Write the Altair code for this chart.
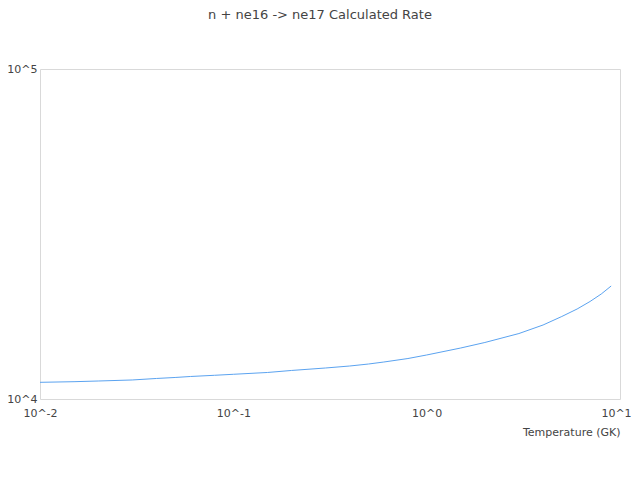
import altair as alt
import pandas as pd

temperature = [0.01, 0.015, 0.02, 0.03, 0.04, 0.05, 0.06, 0.08, 0.1, 0.15, 0.2, 0.3, 0.4,
               0.5, 0.6, 0.8, 1.0, 1.5, 2.0, 3.0, 4.0, 5.0, 6.0, 7.0, 8.0, 9.0]
rate = [11234, 11283, 11338, 11419, 11540, 11620, 11701, 11799, 11882, 12032, 12203, 12416, 12589,
        12764, 12944, 13264, 13594, 14274, 14834, 15789, 16759, 17783, 18738, 19747, 20807, 22000]

x_ticks = [0.01, 0.1, 1, 10]
y_ticks = [10000, 100000]

df = pd.DataFrame({"T": temperature, "rate": rate})

label_expr = "'10^' + round(log(datum.value) / LN10)"

chart = alt.Chart(df).mark_line(color="#5ba3f0", strokeWidth=1).encode(
    x=alt.X("T:Q",
            scale=alt.Scale(type="log", domain=[0.01, 10], nice=False),
            axis=alt.Axis(values=x_ticks, labelExpr=label_expr, title="Temperature (GK)",
                          grid=False, ticks=False, domain=False, labelPadding=8,
                          labelFontSize=11, labelColor="#444", labelFont="DejaVu Sans",
                          labelOffset={"condition": {"test": "datum.value >= 10", "value": -4}, "value": 0},
                          titleFont="DejaVu Sans", titleFontSize=11, titleFontWeight="normal",
                          titleColor="#444", titleAnchor="end", titlePadding=8,
                          labelFlush=False, labelOverlap=False)),
    y=alt.Y("rate:Q",
            scale=alt.Scale(type="log", domain=[10000, 100000], nice=False),
            axis=alt.Axis(values=y_ticks, labelExpr=label_expr, title=None,
                          grid=False, ticks=False, domain=False, labelPadding=3,
                          labelFontSize=11, labelColor="#444", labelFont="DejaVu Sans",
                          labelFlush=False, labelOverlap=False)),
).properties(
    width=580,
    height=330,
    title=alt.TitleParams("n + ne16 -> ne17 Calculated Rate", font="DejaVu Sans", fontSize=13,
                          fontWeight="normal", color="#444", anchor="middle", dx=-10, offset=41),
    autosize=alt.AutoSizeParams(type="none"),
    padding={"left": 32, "top": 61, "right": 12, "bottom": 40},
).configure_view(stroke="#d9d9d9", strokeWidth=1)

chart.save("out.html", embed_options={"renderer": "svg", "actions": False})
